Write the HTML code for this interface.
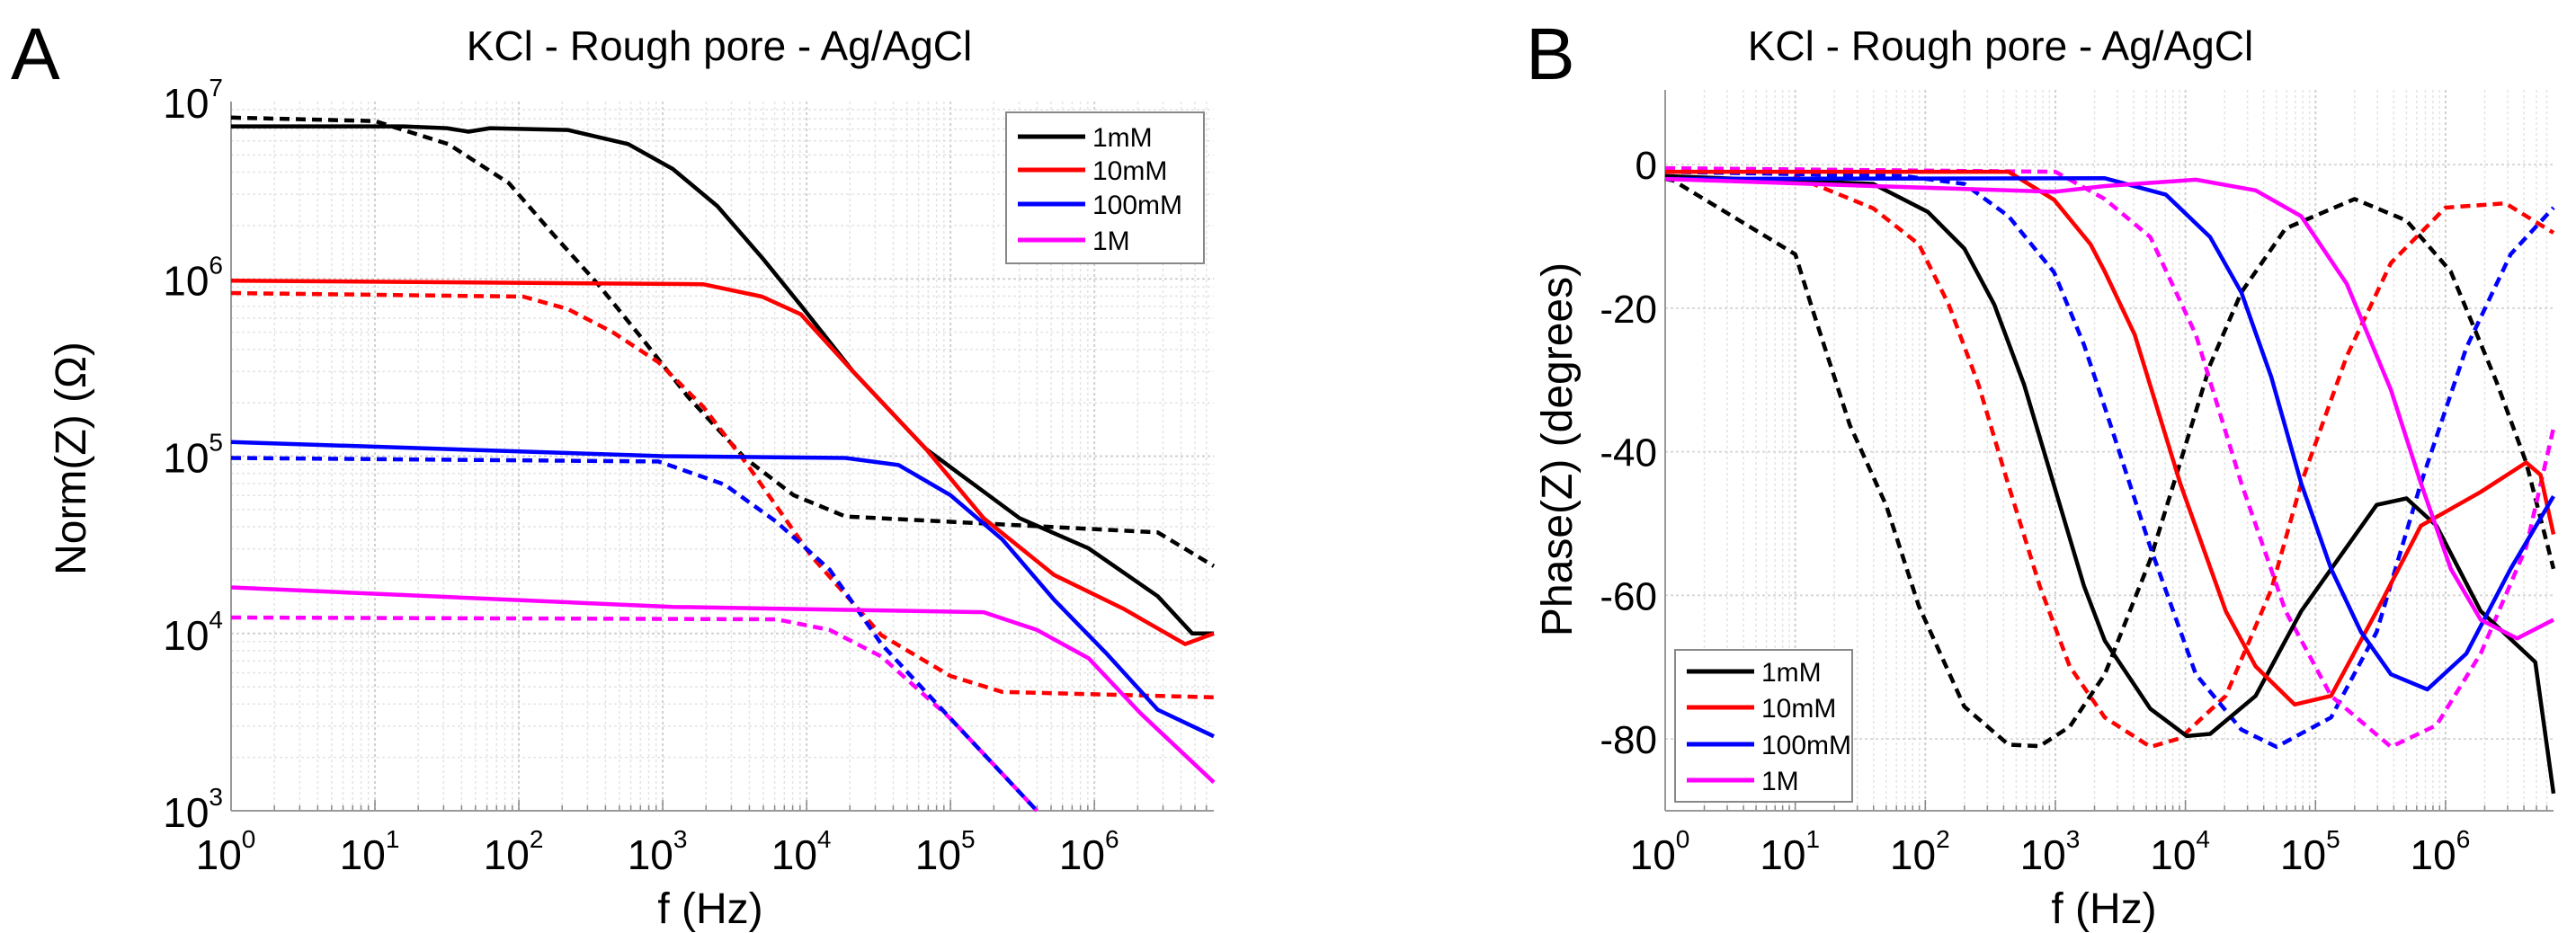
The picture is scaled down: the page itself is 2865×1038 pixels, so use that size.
<!DOCTYPE html>
<html><head><meta charset="utf-8"><style>
html,body{margin:0;padding:0;background:#fff;}
svg{display:block;font-family:"Liberation Sans",sans-serif;}
</style></head><body>
<svg id="fig" width="2865" height="1038" viewBox="0 0 2865 1038"></svg>
<script>
// ---------- data (log10 f, value) ----------
const concLabels = ["1mM","10mM","100mM","1M"];
const colors = ["#000000","#ff0000","#0000ff","#ff00ff"];
const xTickExps = [0,1,2,3,4,5,6];
const aYTickExps = [3,4,5,6,7];
const bYTicks = [0,-20,-40,-60,-80];
// Panel A: log10|Z|
const aBlackSolidF = [0,1.2,1.5,1.65,1.8,2.34,2.76,3.07,3.38,3.69,3.96,4.32,4.83,5.48,5.96,6.44,6.68,6.83];
const aBlackSolidZ = [6.86,6.86,6.85,6.83,6.85,6.84,6.76,6.62,6.41,6.12,5.85,5.48,5.04,4.65,4.48,4.21,4.0,4.0];
const aBlackDashF = [0,1.0,1.51,1.93,2.24,2.55,2.87,3.18,3.57,3.91,4.27,5.0,6.44,6.83];
const aBlackDashZ = [6.91,6.89,6.76,6.54,6.25,5.97,5.65,5.33,4.99,4.78,4.66,4.63,4.57,4.38];
const aRedSolidF = [0,3.28,3.69,3.96,4.32,4.83,5.23,5.72,6.2,6.63,6.83];
const aRedSolidZ = [5.99,5.97,5.90,5.80,5.48,5.04,4.65,4.33,4.14,3.94,4.0];
const aRedDashF = [0,2.03,2.34,2.65,2.97,3.28,3.59,4.03,4.52,5.0,5.36,6.83];
const aRedDashZ = [5.92,5.90,5.83,5.70,5.53,5.28,4.95,4.44,3.99,3.76,3.67,3.64];
const aBlueSolidF = [0,3.0,4.27,4.64,5.0,5.36,5.72,6.08,6.44,6.83];
const aBlueSolidZ = [5.08,5.0,4.99,4.95,4.78,4.53,4.19,3.89,3.57,3.42];
const aBlueDashF = [0,2.97,3.43,3.79,4.16,4.52,5.0,5.6];
const aBlueDashZ = [4.99,4.97,4.84,4.63,4.36,3.94,3.52,3.0];
const aMagSolidF = [0,3.07,5.23,5.6,5.96,6.32,6.83];
const aMagSolidZ = [4.26,4.15,4.12,4.02,3.86,3.55,3.16];
const aMagDashF = [0,3.79,4.16,4.52,5.0,5.6];
const aMagDashZ = [4.09,4.08,4.02,3.87,3.52,3.0];
// Panel B: phase degrees
const bBlackDashF = [0,0.06,1.0,1.14,1.42,1.7,1.95,2.3,2.64,2.88,3.11,3.38,3.73,3.96,4.19,4.43,4.77,5.3,5.7,6.04,6.39,6.62,6.83];
const bBlackDashP = [-2,-2.2,-12.5,-20.6,-36.3,-47.5,-61.5,-75.5,-80.8,-81,-78.3,-71,-55,-41.5,-27.9,-17.8,-8.9,-4.8,-7.8,-14.9,-30.2,-41.5,-56.3];
const bBlackSolidF = [0,1.6,2.02,2.3,2.53,2.76,2.99,3.22,3.38,3.73,4.01,4.19,4.54,4.89,5.47,5.7,5.93,6.27,6.62,6.69,6.83];
const bBlackSolidP = [-1.6,-2.7,-6.6,-11.7,-19.5,-30.7,-44.7,-58.7,-66.3,-75.8,-79.6,-79.3,-74,-62.2,-47.4,-46.5,-50.3,-62.2,-68.1,-69.3,-87.6];
const bRedDashF = [0,0.91,1.6,1.95,2.18,2.41,2.64,2.88,3.11,3.38,3.73,3.96,4.31,4.66,4.89,5.24,5.58,6.0,6.46,6.83];
const bRedDashP = [-1,-1,-6.1,-11.1,-19.5,-30.7,-44.7,-58.7,-69.9,-77,-81.1,-79.9,-74,-59.2,-44.4,-26.7,-13.7,-6,-5.4,-9.5];
const bRedSolidF = [0,2.64,2.99,3.27,3.38,3.61,3.96,4.31,4.54,4.84,5.12,5.47,5.81,6.27,6.62,6.73,6.83];
const bRedSolidP = [-1,-1,-4.9,-11.1,-14.9,-23.7,-44.4,-62.2,-69.9,-75.2,-74,-62.2,-50.3,-45.6,-41.5,-43.2,-51.5];
const bBlueDashF = [0,1.84,2.3,2.64,2.99,3.22,3.38,3.73,4.08,4.43,4.7,5.12,5.47,5.81,6.16,6.5,6.83];
const bBlueDashP = [-1,-1.6,-2.7,-7.2,-15,-25.1,-33.8,-53.3,-71,-78.7,-81.1,-77,-65.1,-44.4,-25.5,-12.5,-6];
const bBlueSolidF = [0,3.38,3.85,4.19,4.43,4.66,4.89,5.12,5.35,5.58,5.86,6.16,6.5,6.83];
const bBlueSolidP = [-2,-1.9,-4.2,-10.1,-17.8,-29.6,-44.4,-56.3,-65.1,-71,-73.1,-68.1,-56.3,-46.2];
const bMagDashF = [0,3.0,3.38,3.73,4.08,4.43,4.77,5.12,5.58,5.93,6.27,6.62,6.83];
const bMagDashP = [-0.5,-1,-4.8,-10.1,-23.7,-44.4,-62.2,-74,-81.1,-78.1,-68.1,-53.3,-36.7];
const bMagSolidF = [0,1.6,2.99,3.38,4.08,4.54,4.89,5.24,5.58,5.81,6.04,6.27,6.55,6.83];
const bMagSolidP = [-2,-3,-3.8,-3,-2.1,-3.6,-7.2,-16.6,-31.4,-44.4,-56.3,-63.4,-66,-63.4];

const NS="http://www.w3.org/2000/svg";
const svg=document.getElementById('fig');
function el(tag,attrs,parent){const e=document.createElementNS(NS,tag);for(const k in attrs)e.setAttribute(k,attrs[k]);(parent||svg).appendChild(e);return e;}

const XMAX=6.83;
const A={x0:257,x1:1350,y0:113,y1:902};
const B={x0:1852,x1:2840,y0:100,y1:902};
const axA_x=v=>A.x0+(v/XMAX)*(A.x1-A.x0);
const axA_y=v=>A.y1-(v-3)/4*(A.y1-A.y0);
const axB_x=v=>B.x0+(v/XMAX)*(B.x1-B.x0);
const bYmax=10.4,bYmin=-90;
const axB_y=v=>B.y1-(v-bYmin)/(bYmax-bYmin)*(B.y1-B.y0);

function grid(P,sx,g,name){
  for(let d=0;d<7;d++){for(let m=1;m<10;m++){const v=d+Math.log10(m);if(v>XMAX)continue;const x=sx(v);
    const l=el('line',{x1:x,x2:x,y1:P.y0,y2:P.y1,stroke:m==1?'#d0d0d0':'#e4e4e4','stroke-width':m==1?2:1.5,'stroke-dasharray':'3,3'},g);
    
    const t=el('line',{x1:x,x2:x,y1:P.y1,y2:P.y1-(m==1?12:6),stroke:'#888','stroke-width':1.5},g);
    }}
}
function line(fs,vs,sx,sy,color,dashed,g,name){
  const pts=fs.map((f,i)=>sx(f).toFixed(1)+','+sy(vs[i]).toFixed(1)).join(' ');
  const p=el('polyline',{points:pts,fill:'none',stroke:color,'stroke-width':4.5,'stroke-linejoin':'round','stroke-dasharray':dashed?'11,7':'none'},g);
  
}
function txt(x,y,s,size,anchor,g,name,extra){const t=el('text',Object.assign({x:x,y:y,'font-size':size,'text-anchor':anchor||'start',fill:'#000'},extra||{}),g);t.textContent=s;return t;}
function pow10(x,y,e,g,name,anchor){
  const t=el('text',{x:x,y:y,'font-size':46,'text-anchor':anchor,fill:'#000'},g);
  
  const a=el('tspan',{},t);a.textContent='10';
  const b=el('tspan',{'font-size':28,dy:-24},t);b.textContent=String(e);
}
function legend(x,y,w,h,rows,g,name){
  const lg=el('g',{},g);
  el('rect',{x:x,y:y,width:w,height:h,fill:'#fff',stroke:'#888','stroke-width':2},lg);
  concLabels.forEach((c,i)=>{const yy=rows[i];
    const e=el('g',{},lg);
    el('line',{x1:x+13,x2:x+88,y1:yy,y2:yy,stroke:colors[i],'stroke-width':5},e);
    const t=el('text',{x:x+96,y:yy+11,'font-size':30,fill:'#000'},e);t.textContent=c;});
}

// ---------- Panel A ----------
const gA=el('g',{});
grid(A,axA_x,gA,'panel-a');
for(let d=3;d<7;d++)for(let m=1;m<10;m++){const y=axA_y(d+Math.log10(m));
  const l=el('line',{x1:A.x0,x2:A.x1,y1:y,y2:y,stroke:m==1?'#d0d0d0':'#e4e4e4','stroke-width':m==1?2:1.5,'stroke-dasharray':'3,3'},gA);
  }
el('line',{x1:A.x0,x2:A.x0,y1:A.y0,y2:A.y1,stroke:'#999','stroke-width':2},gA);
el('line',{x1:A.x0,x2:A.x1,y1:A.y1,y2:A.y1,stroke:'#999','stroke-width':2},gA);
line(aBlackSolidF,aBlackSolidZ,axA_x,axA_y,colors[0],false,gA,'a-1mM-solid');
line(aBlackDashF,aBlackDashZ,axA_x,axA_y,colors[0],true,gA,'a-1mM-dashed');
line(aRedDashF,aRedDashZ,axA_x,axA_y,colors[1],true,gA,'a-10mM-dashed');
line(aRedSolidF,aRedSolidZ,axA_x,axA_y,colors[1],false,gA,'a-10mM-solid');
line(aMagDashF,aMagDashZ,axA_x,axA_y,colors[3],true,gA,'a-1M-dashed');
line(aBlueDashF,aBlueDashZ,axA_x,axA_y,colors[2],true,gA,'a-100mM-dashed');
line(aBlueSolidF,aBlueSolidZ,axA_x,axA_y,colors[2],false,gA,'a-100mM-solid');
line(aMagSolidF,aMagSolidZ,axA_x,axA_y,colors[3],false,gA,'a-1M-solid');
xTickExps.forEach(e=>pow10(axA_x(e)-6,967,e,gA,'a-x-tick-label','middle'));
aYTickExps.forEach(e=>pow10(248,axA_y(e)+18,e,gA,'a-y-tick-label','end'));
legend(1119,125,220,168,[152,189,227,267],gA,'a-legend');
txt(800,67,'KCl - Rough pore - Ag/AgCl',46,'middle',gA,'a-title');
txt(790,1027,'f (Hz)',48,'middle',gA,'a-x-axis-title');
txt(0,0,'Norm(Z) (Ω)',48,'middle',gA,'a-y-axis-title',{transform:'translate(95,510) rotate(-90)'});
txt(12,88,'A',82,'start',gA,'panel-a-letter');

// ---------- Panel B ----------
const gB=el('g',{});
grid(B,axB_x,gB,'panel-b');
bYTicks.concat([-90]).forEach(v=>{const y=axB_y(v);
  const l=el('line',{x1:B.x0,x2:B.x1,y1:y,y2:y,stroke:'#d8d8d8','stroke-width':2,'stroke-dasharray':'3,3'},gB);
  });
el('line',{x1:B.x0,x2:B.x0,y1:B.y0,y2:B.y1,stroke:'#999','stroke-width':2},gB);
el('line',{x1:B.x0,x2:B.x1,y1:B.y1,y2:B.y1,stroke:'#999','stroke-width':2},gB);
line(bBlackDashF,bBlackDashP,axB_x,axB_y,colors[0],true,gB,'b-1mM-dashed');
line(bRedDashF,bRedDashP,axB_x,axB_y,colors[1],true,gB,'b-10mM-dashed');
line(bBlueDashF,bBlueDashP,axB_x,axB_y,colors[2],true,gB,'b-100mM-dashed');
line(bMagDashF,bMagDashP,axB_x,axB_y,colors[3],true,gB,'b-1M-dashed');
line(bBlackSolidF,bBlackSolidP,axB_x,axB_y,colors[0],false,gB,'b-1mM-solid');
line(bRedSolidF,bRedSolidP,axB_x,axB_y,colors[1],false,gB,'b-10mM-solid');
line(bBlueSolidF,bBlueSolidP,axB_x,axB_y,colors[2],false,gB,'b-100mM-solid');
line(bMagSolidF,bMagSolidP,axB_x,axB_y,colors[3],false,gB,'b-1M-solid');
xTickExps.forEach(e=>pow10(axB_x(e)-6,967,e,gB,'b-x-tick-label','middle'));
bYTicks.forEach(v=>txt(1843,axB_y(v)+16,String(v),44,'end',gB,'b-y-tick-label'));
legend(1863,723,197,169,[747,787,828,868],gB,'b-legend');
txt(2225,67,'KCl - Rough pore - Ag/AgCl',46,'middle',gB,'b-title');
txt(2340,1027,'f (Hz)',48,'middle',gB,'b-x-axis-title');
txt(0,0,'Phase(Z) (degrees)',48,'middle',gB,'b-y-axis-title',{transform:'translate(1748,500) rotate(-90)'});
txt(1697,88,'B',82,'start',gB,'panel-b-letter');
</script>
</body></html>
